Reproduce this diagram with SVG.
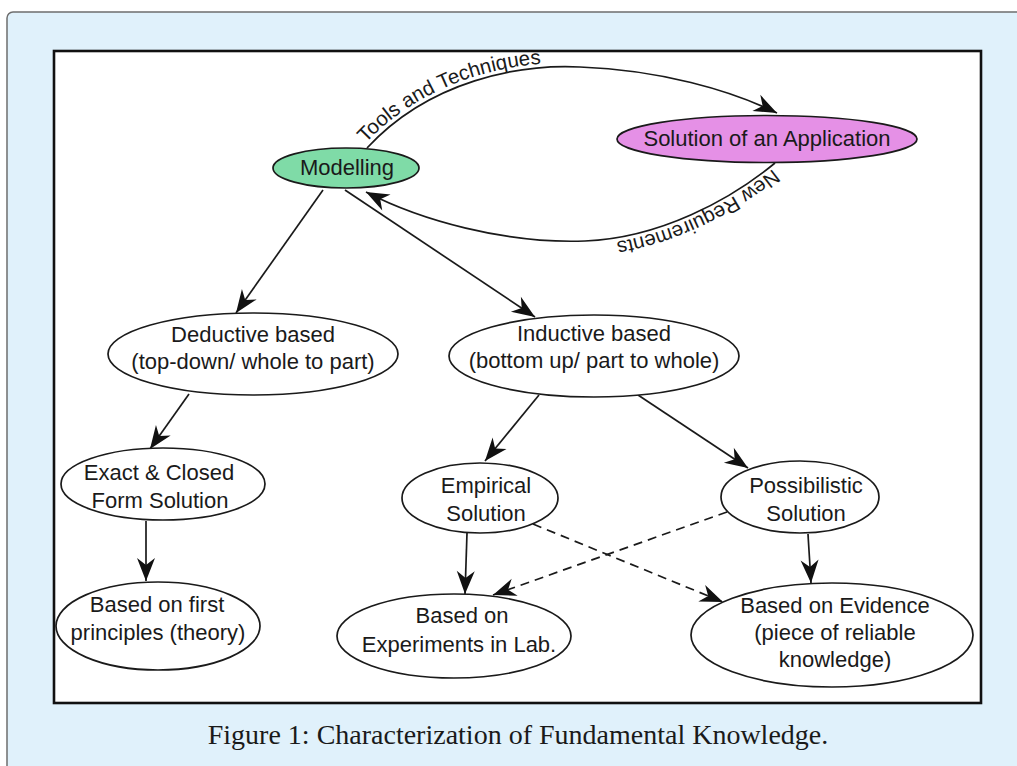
<svg xmlns="http://www.w3.org/2000/svg" width="1017" height="766" viewBox="0 0 1017 766">
<style>
.node{fill:#fff;stroke:#1a1a1a;stroke-width:1.7}
.lbl{font-family:"Liberation Sans",Arial,sans-serif;font-size:22px;fill:#1a1a1a;text-anchor:middle}
.edge{fill:none;stroke:#1a1a1a;stroke-width:1.7}
.dash{stroke-dasharray:9 6}
.elbl{font-family:"Liberation Sans",Arial,sans-serif;font-size:20.5px;fill:#1a1a1a}
</style>
<defs>
<marker id="arr" markerUnits="userSpaceOnUse" markerWidth="28" markerHeight="22" viewBox="-26 -11 28 22" refX="0" refY="0" orient="auto">
<path d="M0,0 L-23,-9 L-16,0 L-23,9 Z" fill="#111"/>
</marker>
<path id="tp1" d="M365,144 C428,76 520,60 580,63 C660,66 730,86 777,109"/>
<path id="tp2" d="M775,167 C730,204 660,242 585,245 C505,248 420,224 366,196"/>
</defs>
<rect x="7" y="12" width="1040" height="800" rx="6" fill="#e0f1fb" stroke="#6e6e6e" stroke-width="1.5"/>
<rect x="54" y="51" width="927" height="652" fill="#fff" stroke="#111" stroke-width="2.6"/>
<g id="connectors">
<path class="edge" d="M367,148 C430,80 520,64 580,67 C660,70 730,90 777,113" marker-end="url(#arr)"/>
<path class="edge" d="M775,163 C730,200 660,238 585,241 C505,244 420,220 366,192" marker-end="url(#arr)"/>
<text class="elbl"><textPath href="#tp1" startOffset="1">Tools and Techniques</textPath></text>
<text class="elbl"><textPath href="#tp2" startOffset="3">New Requirements</textPath></text>
<line class="edge" x1="323" y1="190" x2="236" y2="313" marker-end="url(#arr)"/>
<line class="edge" x1="345" y1="190" x2="535" y2="317" marker-end="url(#arr)"/>
<line class="edge" x1="189" y1="394" x2="150" y2="449" marker-end="url(#arr)"/>
<line class="edge" x1="539" y1="395" x2="485" y2="461" marker-end="url(#arr)"/>
<line class="edge" x1="638" y1="395" x2="748" y2="468" marker-end="url(#arr)"/>
<line class="edge" x1="146" y1="521" x2="146" y2="581" marker-end="url(#arr)"/>
<line class="edge" x1="467" y1="533" x2="465" y2="594" marker-end="url(#arr)"/>
<line class="edge" x1="808" y1="534" x2="811" y2="583" marker-end="url(#arr)"/>
<line class="edge dash" x1="533" y1="524" x2="723" y2="602" marker-end="url(#arr)"/>
<line class="edge dash" x1="727" y1="512" x2="493" y2="595" marker-end="url(#arr)"/>
</g>
<g id="modelling">
<ellipse cx="346" cy="168" rx="73" ry="20" fill="#7fdba7" stroke="#1a1a1a" stroke-width="1.7"/>
<text class="lbl" x="347" y="175">Modelling</text>
</g>
<g id="solution">
<ellipse cx="767" cy="139" rx="150" ry="23.5" fill="#e590e6" stroke="#1a1a1a" stroke-width="1.7"/>
<text class="lbl" x="767" y="146">Solution of an Application</text>
</g>
<g id="deductive">
<ellipse class="node" cx="253" cy="354" rx="145" ry="41"/>
<text class="lbl" x="253" y="342">Deductive based</text>
<text class="lbl" x="253" y="369">(top-down/ whole to part)</text>
</g>
<g id="inductive">
<ellipse class="node" cx="594" cy="356" rx="145" ry="41"/>
<text class="lbl" x="594" y="341">Inductive based</text>
<text class="lbl" x="594" y="368">(bottom up/ part to whole)</text>
</g>
<g id="exact">
<ellipse class="node" cx="163" cy="484" rx="102" ry="36"/>
<text class="lbl" x="159" y="480">Exact &amp; Closed</text>
<text class="lbl" x="160" y="508">Form Solution</text>
</g>
<g id="empirical">
<ellipse class="node" cx="480" cy="498" rx="78" ry="35"/>
<text class="lbl" x="486" y="493">Empirical</text>
<text class="lbl" x="486" y="521">Solution</text>
</g>
<g id="possibilistic">
<ellipse class="node" cx="800" cy="497" rx="79" ry="36"/>
<text class="lbl" x="806" y="493">Possibilistic</text>
<text class="lbl" x="806" y="521">Solution</text>
</g>
<g id="first-principles">
<ellipse class="node" cx="158" cy="626" rx="102" ry="44"/>
<text class="lbl" x="157" y="612">Based on first</text>
<text class="lbl" x="158" y="640">principles (theory)</text>
</g>
<g id="experiments">
<ellipse class="node" cx="454" cy="636" rx="117" ry="42"/>
<text class="lbl" x="462" y="623">Based on</text>
<text class="lbl" x="459" y="652">Experiments in Lab.</text>
</g>
<g id="evidence">
<ellipse class="node" cx="832" cy="635" rx="141" ry="52"/>
<text class="lbl" x="835" y="613">Based on Evidence</text>
<text class="lbl" x="835" y="640">(piece of reliable</text>
<text class="lbl" x="835" y="667">knowledge)</text>
</g>
<text x="518" y="744" font-family="'Liberation Serif','Times New Roman',serif" font-size="28" fill="#1a1a1a" text-anchor="middle">Figure 1: Characterization of Fundamental Knowledge.</text>
</svg>
